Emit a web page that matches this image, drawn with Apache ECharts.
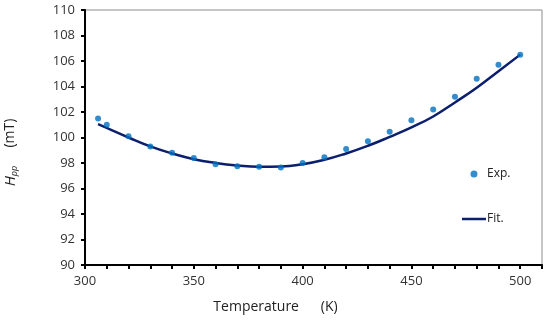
<!DOCTYPE html>
<html>
<head>
<meta charset="utf-8">
<script src="https://cdn.jsdelivr.net/npm/echarts@6/dist/echarts.min.js"></script>
<style>html,body{margin:0;padding:0;background:#fff}#c{width:550px;height:320px}</style>
</head>
<body>
<div id="c"></div>
<script>
var expT = [306, 310, 320, 330, 340, 350, 360, 370, 380, 390, 400, 410, 420, 430, 440, 450, 460, 470, 480, 490, 500];
var expH = [101.5, 101.0, 100.1, 99.3, 98.8, 98.4, 97.9, 97.75, 97.7, 97.65, 98.0, 98.45, 99.1, 99.7, 100.45, 101.35, 102.2, 103.2, 104.6, 105.7, 106.5];
var fitT = [306, 310, 320, 330, 340, 350, 360, 370, 380, 390, 400, 410, 420, 430, 440, 450, 460, 470, 480, 490, 500];
var fitH = [101.05, 100.75, 100.0, 99.3, 98.75, 98.3, 98.0, 97.8, 97.7, 97.72, 97.9, 98.25, 98.75, 99.35, 100.05, 100.8, 101.65, 102.75, 103.9, 105.2, 106.5];
var xLabels = [300, 350, 400, 450, 500];

var font = 'Open Sans';
var lineIcon = 'path://M0,0h0.01v0.01h-0.01z M0,2.2h24v2.6h-24z M0,7h0.01v0.01h-0.01z';
var chart = echarts.init(document.getElementById('c'), null, {renderer: 'canvas'});
chart.setOption({
  animation: false,
  backgroundColor: '#fff',
  grid: {left: 85, right: 8, top: 10, bottom: 55, show: true, borderColor: '#8c8c8c', borderWidth: 1,
         containLabel: false, outerBoundsMode: 'none'},
  legend: {
    orient: 'vertical', left: 462, top: 168, padding: 0, itemWidth: 24, itemHeight: 7, itemGap: 33,
    textStyle: {fontFamily: font, fontSize: 12, color: '#222', padding: [0, 0, 0, -4]},
    data: [{name: 'Exp.', icon: 'circle'}, {name: 'Fit.', icon: lineIcon}]
  },
  xAxis: {
    type: 'value', min: 300, max: 510, interval: 10,
    name: 'Temperature      (K)', nameLocation: 'middle', nameGap: 35,
    nameTextStyle: {fontFamily: font, fontSize: 14, color: '#222', padding: [0, 76, 0, 0]},
    axisLine: {show: true, lineStyle: {color: '#000', width: 2}},
    axisTick: {show: true, inside: false, length: 4, lineStyle: {color: '#000', width: 2}},
    axisLabel: {fontFamily: font, fontSize: 13, color: '#333', margin: 10,
      formatter: function (v) { return xLabels.indexOf(v) >= 0 ? String(v) : ''; }},
    splitLine: {show: false}
  },
  yAxis: {
    type: 'value', min: 90, max: 110, interval: 2,
    name: '{h|H}{s|pp}     (mT)', nameLocation: 'middle', nameGap: 66, nameRotate: 90,
    nameTextStyle: {fontFamily: font, fontSize: 14, color: '#222', padding: [0, 30, 0, 0],
      rich: {h: {fontStyle: 'italic', fontSize: 15, fontFamily: font, color: '#222'},
             s: {fontStyle: 'italic', fontSize: 9, fontFamily: font, color: '#222', verticalAlign: 'bottom', padding: [8, 0, 0, 0]}}},
    axisLine: {show: true, lineStyle: {color: '#000', width: 2}},
    axisTick: {show: true, inside: false, length: 4, lineStyle: {color: '#000', width: 2}},
    axisLabel: {fontFamily: font, fontSize: 13, color: '#333', margin: 10},
    splitLine: {show: false}
  },
  series: [
    {name: 'Exp.', type: 'scatter', symbol: 'circle', symbolSize: 6, z: 3,
     itemStyle: {color: '#0070C0'},
     data: expT.map(function (t, i) { return [t, expH[i]]; })},
    {name: 'Fit.', type: 'line', smooth: true, showSymbol: false, symbol: 'none', z: 2,
     lineStyle: {color: '#0B1F6E', width: 2.5}, itemStyle: {color: '#0B1F6E'},
     data: fitT.map(function (t, i) { return [t, fitH[i]]; })}
  ]
});
</script>
</body>
</html>
